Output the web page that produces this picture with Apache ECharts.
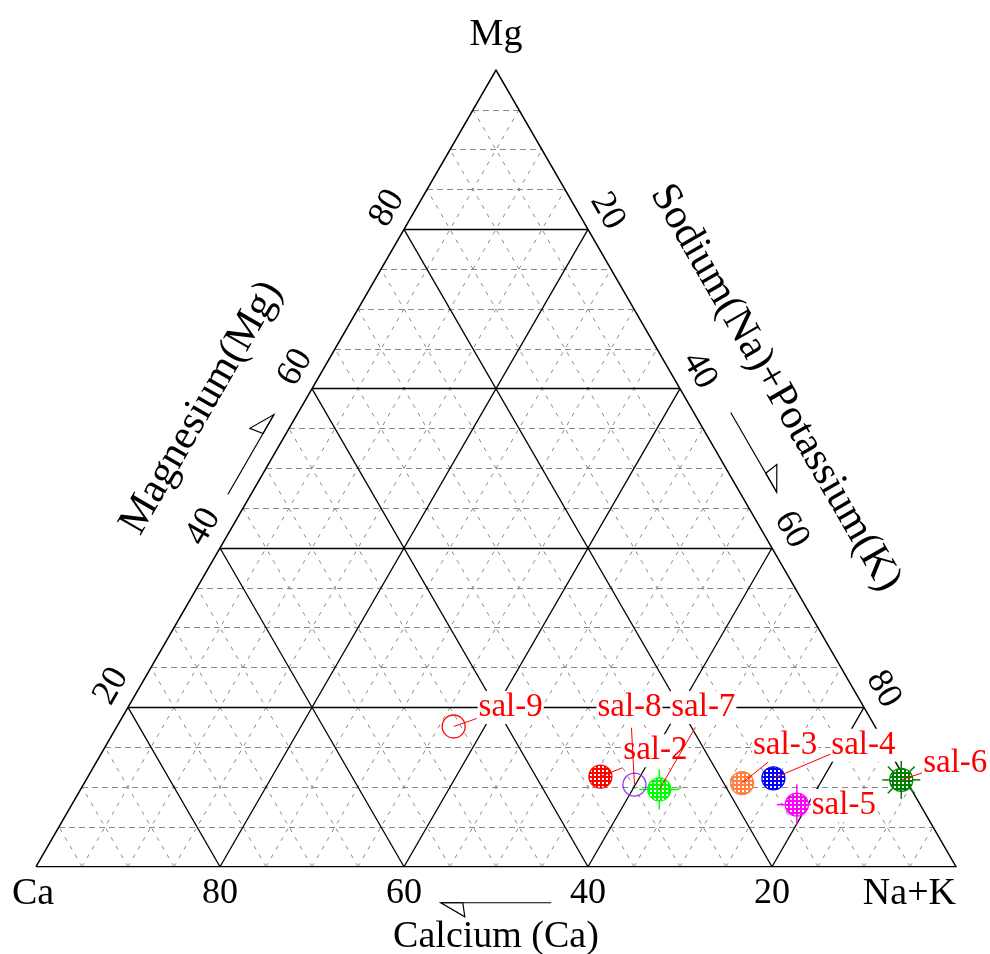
<!DOCTYPE html>
<html>
<head>
<meta charset="utf-8">
<title>Cation ternary diagram</title>
<script src="https://cdn.jsdelivr.net/npm/echarts@6/dist/echarts.min.js"></script>
<style>
  html, body { margin: 0; padding: 0; background: #ffffff; }
  #chart { width: 990px; height: 954px; }
</style>
</head>
<body>
<div id="chart"></div>
<script>
// Sample compositions (percent of total cations)
const SAMPLES = ['sal-2', 'sal-3', 'sal-4', 'sal-5', 'sal-6', 'sal-7', 'sal-8', 'sal-9'];
const CA  = [33.0, 18.0, 14.3, 13.4, 0.5, 27.4, 29.8, 45.8];
const MG  = [11.3, 10.5, 11.1,  7.8, 10.9, 9.7, 10.3, 17.6];
const NAK = [55.7, 71.5, 74.6, 78.8, 88.6, 62.9, 59.9, 36.6];

// Axis tick labels
const BOTTOM_TICKS = [80, 60, 40, 20];   // Ca %
const LEFT_TICKS   = [20, 40, 60, 80];   // Mg %
const RIGHT_TICKS  = [20, 40, 60, 80];   // Na+K %
const MAJOR_STEP = 20;
const MINOR_STEP = 5;

// Marker appearance per sample
const MARKER_COLORS = ['#ff0000', '#ff8040', '#0000ff', '#ff00ff', '#008000', '#00ff00', '#9933ff', '#ff0000'];
const MARKER_KINDS  = ['hatch', 'hatch', 'hatch', 'hatchPlus', 'hatchStar', 'hatchPlus', 'ring', 'ring'];
// Label placement (pixels, relative to the marker) and leader-line ends
const LABEL_OFFSETS = [[55, -26], [43, -38], [90, -33], [47, 1], [54, -17], [44, -82], [-5, -77], [57, -19]];
const LEADER_ENDS   = [[22, -9], [26, -21], [59, -25], null, [21, -7], [36, -62], [-3, -57], [23, -8]];

const H = Math.sqrt(3) / 2;
// ternary (Ca, Mg, Na+K) -> cartesian: Ca at left, Na+K at right, Mg at apex
function toXY(ca, mg, nak) {
  const s = ca + mg + nak;
  return [(nak + mg / 2) / s * 100, mg / s * 100 * H];
}

// grid segments
const majorSegs = [], minorH = [], minorD = [];
for (let v = MINOR_STEP; v < 100; v += MINOR_STEP) {
  const h  = [toXY(100 - v, v, 0), toXY(0, v, 100 - v)];
  const d1 = [toXY(100 - v, 0, v), toXY(0, 100 - v, v)];
  const d2 = [toXY(v, 0, 100 - v), toXY(v, 100 - v, 0)];
  if (v % MAJOR_STEP === 0) majorSegs.push(h, d1, d2);
  else { minorH.push(h); minorD.push(d1, d2); }
}
const outline = [toXY(100, 0, 0), toXY(0, 0, 100), toXY(0, 100, 0), toXY(100, 0, 0)];

const sampleData = SAMPLES.map((name, i) => {
  const p = toXY(CA[i], MG[i], NAK[i]);
  return { name, value: [p[0], p[1]] };
});

const SERIF = '"Liberation Serif", "Times New Roman", serif';

function hatchPattern(color) {
  const c = document.createElement('canvas');
  c.width = 4; c.height = 4;
  const g = c.getContext('2d');
  g.fillStyle = '#ffffff';
  g.fillRect(0, 0, 4, 4);
  g.fillStyle = color;
  g.fillRect(0, 0, 4, 2);
  g.fillRect(0, 0, 2, 4);
  return { image: c, repeat: 'repeat' };
}
const patterns = MARKER_COLORS.map(hatchPattern);

function text(str, x, y, size, opts) {
  opts = opts || {};
  return {
    type: 'text',
    x: x, y: y,
    rotation: opts.rotation || 0,
    style: {
      text: str, x: 0, y: 0,
      fill: opts.color || '#000000',
      font: size + 'px ' + SERIF,
      align: opts.align || 'center',
      verticalAlign: 'middle'
    }
  };
}

// offset a point by (along, normal) in the frame of an edge
function shift(p, dir, nrm, a, n) {
  return [p[0] + dir[0] * a + nrm[0] * n, p[1] + dir[1] * a + nrm[1] * n];
}

function arrow(from, to, dir, nrm) {
  // shaft from 'from' to 'to' (tip), one-sided open head on the outer side
  const back = [-dir[0], -dir[1]];
  const a = shift(to, back, nrm, 22, 0);
  const b = shift(to, back, nrm, 24, 14);
  return [
    { type: 'line', shape: { x1: from[0], y1: from[1], x2: to[0], y2: to[1] }, style: { stroke: '#000', lineWidth: 1.2 } },
    { type: 'polygon', shape: { points: [to, a, b] }, style: { fill: 'none', stroke: '#000', lineWidth: 1.2 } }
  ];
}

function renderFrame(params, api) {
  const P = (ca, mg, nak) => api.coord(toXY(ca, mg, nak));
  const kids = [];
  const cA = P(100, 0, 0), nA = P(0, 0, 100), mA = P(0, 100, 0);

  // vertex labels
  kids.push(text('Mg', mA[0], mA[1] - 35, 38));
  kids.push(text('Ca', cA[0] - 3, cA[1] + 27, 38));
  kids.push(text('Na+K', nA[0], nA[1] + 27, 38, { align: 'right' }));

  // bottom (Ca) ticks
  BOTTOM_TICKS.forEach(v => {
    const p = P(v, 0, 100 - v);
    kids.push(text(String(v), p[0], p[1] + 27, 36));
  });

  // left edge (Mg) ticks
  const lDir = [0.5, -H], lN = [-H, -0.5];
  LEFT_TICKS.forEach(v => {
    const p = shift(P(100 - v, v, 0), lDir, lN, 10, 25);
    kids.push(text(String(v), p[0], p[1], 36, { rotation: Math.PI / 3 }));
  });

  // right edge (Na+K) ticks
  const rDir = [0.5, H], rN = [H, -0.5];
  RIGHT_TICKS.forEach(v => {
    const p = shift(P(0, 100 - v, v), rDir, rN, -6, 26);
    kids.push(text(String(v), p[0], p[1], 36, { rotation: -Math.PI / 3 }));
  });

  // axis titles
  const tl = shift(P(47.8, 52.2, 0), lDir, lN, 0, 86);
  kids.push(text('Magnesium(Mg)', tl[0], tl[1], 42, { rotation: Math.PI / 3 }));
  const tr = shift(P(0, 54.9, 45.1), rDir, rN, 0, 83);
  kids.push(text('Sodium(Na)+Potassium(K)', tr[0], tr[1], 42, { rotation: -Math.PI / 3 }));
  const tb = P(50, 0, 50);
  kids.push(text('Calcium (Ca)', tb[0], tb[1] + 70, 38));

  // direction arrows
  kids.push(...arrow(shift(P(54.5, 45.5, 0), lDir, lN, 0, 20), shift(P(44.5, 55.5, 0), lDir, lN, 0, 20), lDir, lN));
  kids.push(...arrow(shift(P(0, 55, 45), rDir, rN, 0, 32), shift(P(0, 45, 55), rDir, rN, 0, 32), rDir, rN));
  const bDir = [-1, 0], bN = [0, 1];
  kids.push(...arrow(shift(P(44, 0, 56), bDir, bN, 0, 36), shift(P(56, 0, 44), bDir, bN, 0, 36), bDir, bN));

  return { type: 'group', children: kids };
}

function renderSample(params, api) {
  const i = params.dataIndex;
  const p = api.coord([api.value(0), api.value(1)]);
  const col = MARKER_COLORS[i];
  const kind = MARKER_KINDS[i];
  const kids = [];
  const r = 11.5;

  const rays = kind === 'hatchPlus' ? [0, 90, 180, 270] : kind === 'hatchStar' ? [0, 45, 90, 135, 180, 225, 270, 315] : [];
  rays.forEach(a => {
    const t = a * Math.PI / 180;
    const len = kind === 'hatchStar' ? 19 : 20;
    kids.push({ type: 'line', shape: { x1: p[0], y1: p[1], x2: p[0] + Math.cos(t) * len, y2: p[1] + Math.sin(t) * len },
      style: { stroke: col, lineWidth: 1.5 } });
  });

  if (kind === 'ring') {
    kids.push({ type: 'circle', shape: { cx: p[0], cy: p[1], r: r }, style: { fill: 'none', stroke: col, lineWidth: 1.3 } });
  } else {
    kids.push({ type: 'circle', shape: { cx: p[0], cy: p[1], r: r }, style: { fill: patterns[i], stroke: col, lineWidth: 1.3 } });
  }

  const le = LEADER_ENDS[i];
  if (le) {
    kids.push({ type: 'line', shape: { x1: p[0], y1: p[1], x2: p[0] + le[0], y2: p[1] + le[1] },
      style: { stroke: '#ff0000', lineWidth: 1 } });
  }

  const lo = LABEL_OFFSETS[i];
  kids.push({
    type: 'text', x: p[0] + lo[0], y: p[1] + lo[1],
    style: {
      text: SAMPLES[i], x: 0, y: 0, fill: '#ff0000',
      font: '33px ' + SERIF, align: 'center', verticalAlign: 'middle',
      backgroundColor: '#ffffff', padding: [0, 1]
    }
  });
  return { type: 'group', children: kids };
}

const chart = echarts.init(document.getElementById('chart'));
chart.setOption({
  animation: false,
  backgroundColor: '#ffffff',
  grid: { left: 36, top: 70, width: 920, height: 920 * H },
  xAxis: { type: 'value', min: 0, max: 100, show: false },
  yAxis: { type: 'value', min: 0, max: 100 * H, show: false },
  series: [
    {
      type: 'lines', coordinateSystem: 'cartesian2d', silent: true, z: 1,
      data: minorH.map(c => ({ coords: c })),
      lineStyle: { color: '#8a8a8a', width: 1, type: [6, 4], opacity: 1 }
    },
    {
      type: 'lines', coordinateSystem: 'cartesian2d', silent: true, z: 1,
      data: minorD.map(c => ({ coords: c })),
      lineStyle: { color: '#8a8a8a', width: 1, type: [4, 6], opacity: 1 }
    },
    {
      type: 'lines', coordinateSystem: 'cartesian2d', silent: true, z: 2,
      data: majorSegs.map(c => ({ coords: c })),
      lineStyle: { color: '#000000', width: 1.3, opacity: 1 }
    },
    {
      type: 'lines', coordinateSystem: 'cartesian2d', polyline: true, silent: true, z: 3,
      data: [{ coords: outline }],
      lineStyle: { color: '#000000', width: 1.5, opacity: 1 }
    },
    {
      type: 'custom', coordinateSystem: 'cartesian2d', silent: true, clip: false, z: 4,
      data: [[50, 40]],
      renderItem: renderFrame
    },
    {
      type: 'custom', coordinateSystem: 'cartesian2d', clip: false, z: 5,
      data: sampleData,
      renderItem: renderSample
    }
  ]
});
</script>
</body>
</html>
